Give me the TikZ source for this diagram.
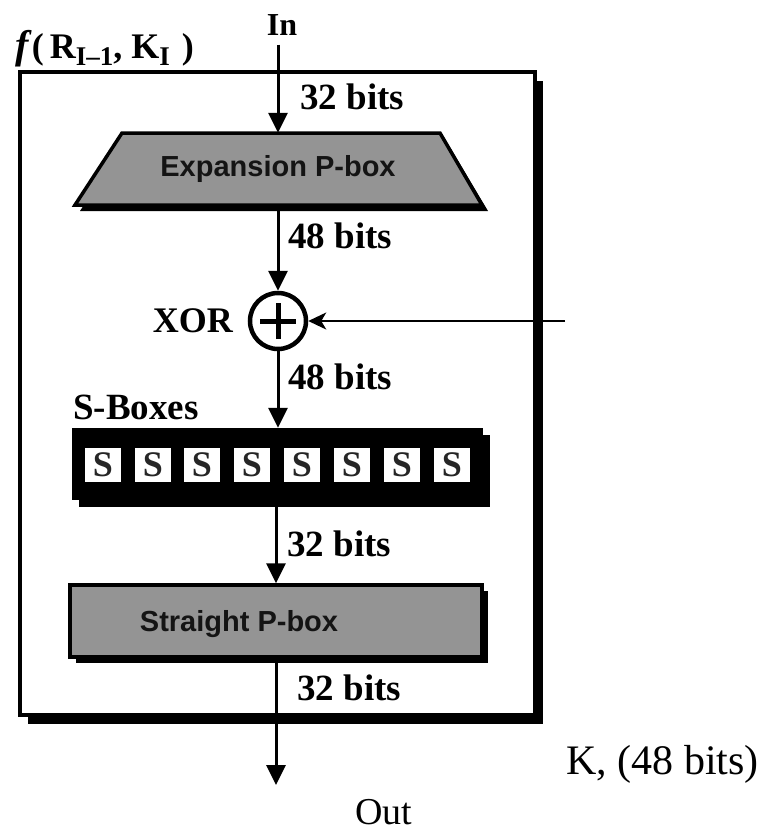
\documentclass[tikz,border=0pt]{standalone}
\usepackage{fontspec}
\setmainfont{Liberation Serif}
\setsansfont{Liberation Sans}
\usetikzlibrary{arrows.meta,shadows}
\definecolor{boxgray}{RGB}{148,148,148}
\newcommand{\subtx}[1]{\raisebox{-7pt}{\fontsize{27}{27}\selectfont #1}}
\begin{document}
\begin{tikzpicture}[x=1pt,y=-1pt,
  lbl/.style={font=\bfseries\fontsize{37}{37}\selectfont, anchor=west, inner sep=0pt},
  flow/.style={line width=3pt, -{Triangle[length=20pt,width=19pt]}},
  boxtext/.style={font=\sffamily\bfseries\fontsize{29}{29}\selectfont, text=black!92, inner sep=0pt},
  graybox/.style={draw=black, line width=3.5pt, fill=boxgray},
  sq/.style={fill=white, minimum width=36pt, minimum height=34pt, inner sep=0pt,
             font=\bfseries\fontsize{36}{36}\selectfont, text=black!85}]
\useasboundingbox (0,0) rectangle (764,833);
% outer frame
\node[draw=black, line width=3.5pt, fill=white, minimum width=515pt, minimum height=643pt,
      inner sep=0pt, drop shadow={shadow xshift=8pt, shadow yshift=-9pt, fill=black, opacity=1}]
      (frame) at (277.5,393.5) {};
\node[anchor=base west, inner sep=0pt, font=\bfseries\fontsize{36}{36}\selectfont]
      (flab) at (15,58) {\textit{\fontsize{40}{40}\selectfont f}(\,R\subtx{I–1}, K\subtx{I}\hspace{12pt})};
% In
\node[font=\bfseries\fontsize{32}{32}\selectfont, inner sep=0pt] (in) at (282,25) {In};
% expansion P-box
\fill[black] (127,139) -- (445,139) -- (488,211) -- (80,211) -- cycle;
\filldraw[graybox] (122,133) -- (440,133) -- (482,205) -- (75,205) -- cycle;
\node[boxtext, minimum width=300pt, minimum height=72pt] (exp) at (278,169) {Expansion P-box};
% XOR
\node[circle, draw=black, line width=4.5pt, minimum size=56pt, inner sep=0pt] (xor) at (278,321) {};
\draw[line width=5pt] ([xshift=-18pt]xor.center) -- ([xshift=18pt]xor.center);
\draw[line width=5pt] ([yshift=-18pt]xor.center) -- ([yshift=18pt]xor.center);
\node[font=\bfseries\fontsize{36}{36}\selectfont, anchor=east, inner sep=0pt] (xorlab) at (233,321) {XOR};
% S-boxes
\node[lbl] (sblab) at (73,407) {S-Boxes};
\node[fill=black, minimum width=411pt, minimum height=72pt, inner sep=0pt,
      drop shadow={shadow xshift=7pt, shadow yshift=-7pt, fill=black, opacity=1}]
      (sbox) at (277.5,464) {};
\foreach \i/\x in {1/103,2/153,3/202,4/252,5/302,6/352,7/402,8/452}
  \node[sq] (s\i) at (\x,465) {S};
% straight P-box
\node[graybox, minimum width=412pt, minimum height=72pt, inner sep=0pt,
      drop shadow={shadow xshift=6pt, shadow yshift=-6pt, fill=black, opacity=1}]
      (spb) at (276,621) {};
\node[boxtext] (spbt) at (239,624) {Straight P-box};
% labels
\node[lbl] (b1) at (300,97) {32 bits};
\node[lbl] (b2) at (288,236) {48 bits};
\node[lbl] (b3) at (288,377) {48 bits};
\node[lbl] (b4) at (287,544) {32 bits};
\node[lbl] (b5) at (297,688) {32 bits};
% connectors
\coordinate (kin) at (565,321);
\coordinate (outend) at (276,785);
\draw[flow, shorten <=9pt] (in.south -| exp.north) -- (exp.north);
\draw[flow] (exp.south) -- (xor.north);
\draw[flow] (xor.south) -- (xor.south |- sbox.north);
\draw[flow] (spb.north |- sbox.south) -- (spb.north);
\draw[flow] (spb.south) -- (outend);
\draw[line width=2pt, -{Stealth[length=18pt,width=17pt,inset=5pt]}] (kin) -- (xor);
% K and Out
\node[font=\fontsize{42}{42}\selectfont, anchor=west, inner sep=0pt] (klab) at (566,764) {K, (48 bits)};
\node[font=\fontsize{38}{38}\selectfont, inner sep=0pt] (outlab) at (384,812) {Out};
\end{tikzpicture}
\end{document}
